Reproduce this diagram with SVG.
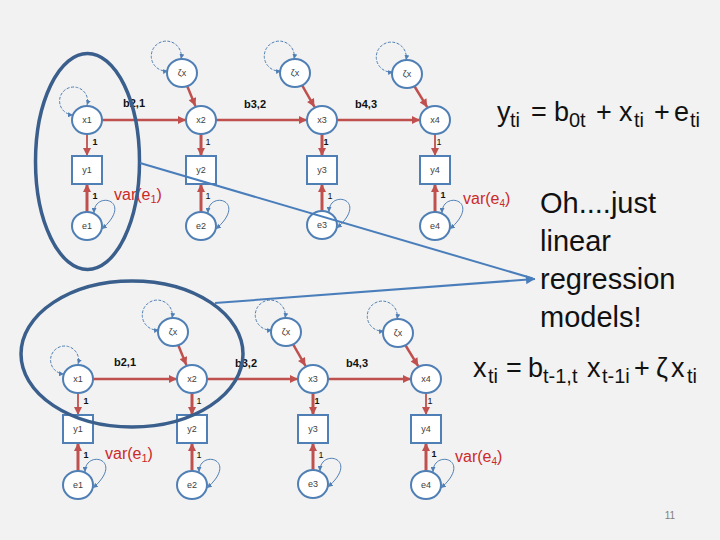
<svg xmlns="http://www.w3.org/2000/svg" xmlns:xlink="http://www.w3.org/1999/xlink" width="720" height="540" viewBox="0 0 720 540">
<style>
.nd{fill:#fff;stroke:#4F7FB4;stroke-width:2}
.nl{font-family:"Liberation Sans",Arial,sans-serif;font-size:9px;fill:#404040;text-anchor:middle}
.rd{fill:none;stroke:#C0504D;stroke-width:2.5;marker-end:url(#ra)}
.rt{stroke-width:3}
.rn{stroke-width:1.8}
.lp{fill:none;stroke:#4F7FB4;stroke-width:1;marker-start:url(#la);marker-end:url(#la)}
.ds{stroke-dasharray:3 1.5}
.bl{font-family:"Liberation Sans",Arial,sans-serif;font-size:11px;font-weight:bold;fill:#111}
.one{font-family:"Liberation Sans",Arial,sans-serif;font-size:9px;fill:#111;text-anchor:middle}
.ob{font-weight:bold}
.var{font-family:"Liberation Sans",Arial,sans-serif;font-size:16px;fill:#CC2929}
.big{font-family:"Liberation Sans",Arial,sans-serif;fill:#111}
.el{fill:none;stroke:#3A5F8C;stroke-width:3.5}
.cn{fill:none;stroke:#4A7EBB;stroke-width:2}
</style>
<defs>
<marker id="ra" viewBox="0 0 10 10" refX="10" refY="5" markerUnits="userSpaceOnUse" markerWidth="9" markerHeight="8" orient="auto"><path d="M0,0 L10,5 L0,10 z" fill="#C0504D"/></marker>
<marker id="la" viewBox="0 0 10 10" refX="10" refY="5" markerUnits="userSpaceOnUse" markerWidth="5" markerHeight="5" orient="auto-start-reverse"><path d="M0,0 L10,5 L0,10 z" fill="#4F7FB4"/></marker>
<marker id="ba" viewBox="0 0 10 10" refX="10" refY="5" markerUnits="userSpaceOnUse" markerWidth="11" markerHeight="9" orient="auto"><path d="M0,0 L10,5 L0,10 z" fill="#4A7EBB"/></marker>
<path id="xl" class="lp ds" d="M-14,-5 A14,14 0 1 1 0,-15"/>
<path id="zl" class="lp ds" d="M-14,-2 A15,15 0 1 1 -1,-14"/>
<path id="elp" class="lp" d="M7,-13 C7,-36 48,-26 15,3"/>
</defs>
<rect width="720" height="540" fill="#F2F2F2"/>

<!-- TOP MODEL -->
<g id="top-model">
<g id="connectors-top">
<path class="rd" d="M102,120 L186,120"/>
<path class="rd" d="M216,120 L307,120"/>
<path class="rd" d="M337,120 L420,120"/>
<path class="rd" d="M187.2,86 L195.4,106.1"/>
<path class="rd" d="M302,85.1 L314.5,107"/>
<path class="rd" d="M414.3,86 L427.2,107.2"/>
<path class="rd rn" d="M87,134 L87,156"/>
<path class="rd rt" d="M201,134 L201,156"/>
<path class="rd rt" d="M322,134 L322,156"/>
<path class="rd rn" d="M435,134 L435,156"/>
<path class="rd rt" d="M87,212 L87,184"/>
<path class="rd rt" d="M201,212 L201,184"/>
<path class="rd rt" d="M322,211 L322,184"/>
<path class="rd rt" d="M435,212 L435,184"/>
<use xlink:href="#xl" transform="translate(87,120)"/>
<use xlink:href="#zl" transform="translate(182,73)"/>
<use xlink:href="#zl" transform="translate(295,73)"/>
<use xlink:href="#zl" transform="translate(407,74)"/>
<use xlink:href="#elp" transform="translate(87,226)"/>
<use xlink:href="#elp" transform="translate(201,226)"/>
<use xlink:href="#elp" transform="translate(322,225)"/>
<use xlink:href="#elp" transform="translate(435,226)"/>
</g>
<g id="t-x1"><ellipse class="nd" cx="87" cy="120" rx="15" ry="14"/><text class="nl" x="87" y="123">x1</text></g>
<g id="t-x2"><ellipse class="nd" cx="201" cy="120" rx="15" ry="14"/><text class="nl" x="201" y="123">x2</text></g>
<g id="t-x3"><ellipse class="nd" cx="322" cy="120" rx="15" ry="14"/><text class="nl" x="322" y="123">x3</text></g>
<g id="t-x4"><ellipse class="nd" cx="435" cy="120" rx="15" ry="14"/><text class="nl" x="435" y="123">x4</text></g>
<g id="t-z2"><ellipse class="nd" cx="182" cy="73" rx="15" ry="14"/><text class="nl" x="182" y="76">ζx</text></g>
<g id="t-z3"><ellipse class="nd" cx="295" cy="73" rx="15" ry="14"/><text class="nl" x="295" y="76">ζx</text></g>
<g id="t-z4"><ellipse class="nd" cx="407" cy="74" rx="15" ry="14"/><text class="nl" x="407" y="77">ζx</text></g>
<g id="t-y1"><rect class="nd" x="72" y="156" width="30" height="28"/><text class="nl" x="87" y="173">y1</text></g>
<g id="t-y2"><rect class="nd" x="186" y="156" width="30" height="28"/><text class="nl" x="201" y="173">y2</text></g>
<g id="t-y3"><rect class="nd" x="307" y="156" width="30" height="28"/><text class="nl" x="322" y="173">y3</text></g>
<g id="t-y4"><rect class="nd" x="420" y="156" width="30" height="28"/><text class="nl" x="435" y="173">y4</text></g>
<g id="t-e1"><ellipse class="nd" cx="87" cy="226" rx="15" ry="14"/><text class="nl" x="87" y="229">e1</text></g>
<g id="t-e2"><ellipse class="nd" cx="201" cy="226" rx="15" ry="14"/><text class="nl" x="201" y="229">e2</text></g>
<g id="t-e3"><ellipse class="nd" cx="322" cy="225" rx="15" ry="14"/><text class="nl" x="322" y="228">e3</text></g>
<g id="t-e4"><ellipse class="nd" cx="435" cy="226" rx="15" ry="14"/><text class="nl" x="435" y="229">e4</text></g>
<g id="t-labels">
<text class="bl" x="123" y="107">b2,1</text>
<text class="bl" x="244" y="108">b3,2</text>
<text class="bl" x="355" y="108">b4,3</text>
<text class="one ob" x="95" y="145">1</text>
<text class="one" x="208" y="145">1</text>
<text class="one ob" x="326" y="145">1</text>
<text class="one" x="439" y="145">1</text>
<text class="one ob" x="95" y="199">1</text>
<text class="one" x="208" y="199">1</text>
<text class="one" x="330" y="199">1</text>
<text class="one ob" x="443" y="198">1</text>
<text class="var" x="114" y="200">var(e<tspan font-size="11" dy="3">1</tspan><tspan dy="-3">)</tspan></text>
<text class="var" x="463" y="204" font-size="15">var(e<tspan font-size="10" dy="3">4</tspan><tspan dy="-3">)</tspan></text>
</g>
</g>

<!-- BOTTOM MODEL -->
<g id="bottom-model" transform="translate(-9,259)">
<g id="connectors-bottom">
<path class="rd" d="M102,120 L186,120"/>
<path class="rd" d="M216,120 L307,120"/>
<path class="rd" d="M337,120 L420,120"/>
<path class="rd" d="M187.2,86 L195.4,106.1"/>
<path class="rd" d="M302,85.1 L314.5,107"/>
<path class="rd" d="M414.3,86 L427.2,107.2"/>
<path class="rd rn" d="M87,134 L87,156"/>
<path class="rd rt" d="M201,134 L201,156"/>
<path class="rd rt" d="M322,134 L322,156"/>
<path class="rd rn" d="M435,134 L435,156"/>
<path class="rd rt" d="M87,212 L87,184"/>
<path class="rd rt" d="M201,212 L201,184"/>
<path class="rd rt" d="M322,211 L322,184"/>
<path class="rd rt" d="M435,212 L435,184"/>
<use xlink:href="#xl" transform="translate(87,120)"/>
<use xlink:href="#zl" transform="translate(182,73)"/>
<use xlink:href="#zl" transform="translate(295,73)"/>
<use xlink:href="#zl" transform="translate(407,74)"/>
<use xlink:href="#elp" transform="translate(87,226)"/>
<use xlink:href="#elp" transform="translate(201,226)"/>
<use xlink:href="#elp" transform="translate(322,225)"/>
<use xlink:href="#elp" transform="translate(435,226)"/>
</g>
<g id="b-x1"><ellipse class="nd" cx="87" cy="120" rx="15" ry="14"/><text class="nl" x="87" y="123">x1</text></g>
<g id="b-x2"><ellipse class="nd" cx="201" cy="120" rx="15" ry="14"/><text class="nl" x="201" y="123">x2</text></g>
<g id="b-x3"><ellipse class="nd" cx="322" cy="120" rx="15" ry="14"/><text class="nl" x="322" y="123">x3</text></g>
<g id="b-x4"><ellipse class="nd" cx="435" cy="120" rx="15" ry="14"/><text class="nl" x="435" y="123">x4</text></g>
<g id="b-z2"><ellipse class="nd" cx="182" cy="73" rx="15" ry="14"/><text class="nl" x="182" y="76">ζx</text></g>
<g id="b-z3"><ellipse class="nd" cx="295" cy="73" rx="15" ry="14"/><text class="nl" x="295" y="76">ζx</text></g>
<g id="b-z4"><ellipse class="nd" cx="407" cy="74" rx="15" ry="14"/><text class="nl" x="407" y="77">ζx</text></g>
<g id="b-y1"><rect class="nd" x="72" y="156" width="30" height="28"/><text class="nl" x="87" y="173">y1</text></g>
<g id="b-y2"><rect class="nd" x="186" y="156" width="30" height="28"/><text class="nl" x="201" y="173">y2</text></g>
<g id="b-y3"><rect class="nd" x="307" y="156" width="30" height="28"/><text class="nl" x="322" y="173">y3</text></g>
<g id="b-y4"><rect class="nd" x="420" y="156" width="30" height="28"/><text class="nl" x="435" y="173">y4</text></g>
<g id="b-e1"><ellipse class="nd" cx="87" cy="226" rx="15" ry="14"/><text class="nl" x="87" y="229">e1</text></g>
<g id="b-e2"><ellipse class="nd" cx="201" cy="226" rx="15" ry="14"/><text class="nl" x="201" y="229">e2</text></g>
<g id="b-e3"><ellipse class="nd" cx="322" cy="225" rx="15" ry="14"/><text class="nl" x="322" y="228">e3</text></g>
<g id="b-e4"><ellipse class="nd" cx="435" cy="226" rx="15" ry="14"/><text class="nl" x="435" y="229">e4</text></g>
<g id="b-labels">
<text class="bl" x="123" y="107">b2,1</text>
<text class="bl" x="244" y="108">b3,2</text>
<text class="bl" x="355" y="108">b4,3</text>
<text class="one ob" x="95" y="145">1</text>
<text class="one" x="208" y="145">1</text>
<text class="one ob" x="326" y="145">1</text>
<text class="one" x="439" y="145">1</text>
<text class="one ob" x="95" y="199">1</text>
<text class="one" x="208" y="199">1</text>
<text class="one" x="330" y="199">1</text>
<text class="one ob" x="443" y="198">1</text>
<text class="var" x="114" y="200">var(e<tspan font-size="11" dy="3">1</tspan><tspan dy="-3">)</tspan></text>
<text class="var" x="464" y="203" font-size="15">var(e<tspan font-size="10" dy="3">4</tspan><tspan dy="-3">)</tspan></text>
</g>
</g>

<!-- highlight ellipses and pointer lines -->
<g id="highlights">
<ellipse id="ellipse-top" class="el" cx="87.5" cy="161.5" rx="52" ry="108"/>
<ellipse id="ellipse-bottom" class="el" cx="132" cy="354" rx="111" ry="73"/>
</g>
<g id="pointer-connectors">
<path class="cn" d="M140,163 L533,278.5"/>
<path class="cn" d="M215,303 L535,279" marker-end="url(#ba)"/>
</g>

<!-- equations and text -->
<g id="eq-y">
<text class="big" font-size="27" y="121"><tspan x="497">y</tspan><tspan x="510" y="127" font-size="20">ti</tspan><tspan x="531" y="121">=</tspan><tspan x="554">b</tspan><tspan x="569" y="127" font-size="20">0t</tspan><tspan x="596" y="121">+</tspan><tspan x="619">x</tspan><tspan x="634" y="127" font-size="20">ti</tspan><tspan x="654" y="121">+</tspan><tspan x="674">e</tspan><tspan x="690" y="127" font-size="20">ti</tspan></text>
</g>
<g id="remark">
<text class="big" font-size="29" x="540" y="213">Oh....just</text>
<text class="big" font-size="29" x="540" y="251">linear</text>
<text class="big" font-size="29" x="540" y="289">regression</text>
<text class="big" font-size="29" x="540" y="327">models!</text>
</g>
<g id="eq-x">
<text class="big" font-size="27" y="377"><tspan x="473">x</tspan><tspan x="488" y="383" font-size="20">ti</tspan><tspan x="506" y="377">=</tspan><tspan x="528">b</tspan><tspan x="543" y="383" font-size="20">t-1,t</tspan><tspan x="587" y="377">x</tspan><tspan x="602" y="383" font-size="20">t-1i</tspan><tspan x="634" y="377">+</tspan><tspan x="656">ζ</tspan><tspan x="671">x</tspan><tspan x="687" y="383" font-size="20">ti</tspan></text>
</g>
<text id="page-number" x="670" y="519" font-family="Liberation Sans, Arial, sans-serif" font-size="10" fill="#7F7F7F" text-anchor="middle">11</text>
</svg>
